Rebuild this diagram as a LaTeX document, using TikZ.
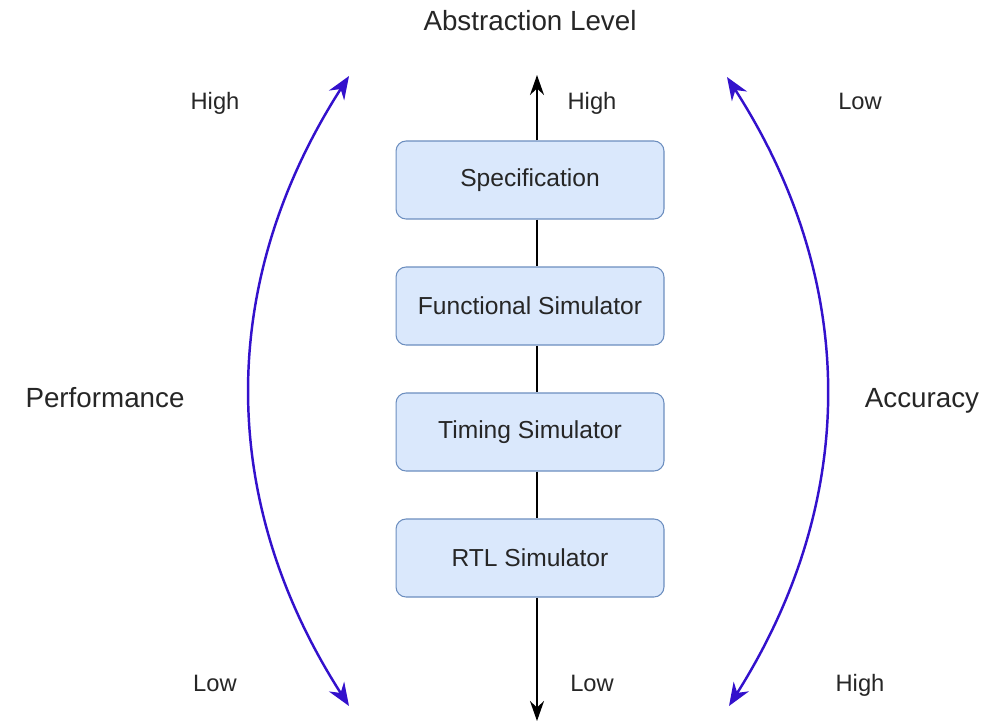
\documentclass[tikz,border=0pt]{standalone}
\usepackage{fontspec}
\setmainfont{Liberation Sans}
\usetikzlibrary{arrows.meta, positioning}
\definecolor{boxfill}{HTML}{DAE8FC}
\definecolor{boxline}{HTML}{6C8EBF}
\definecolor{bendblue}{HTML}{3311CC}
\definecolor{inkgray}{HTML}{262626}

\begin{document}
\begin{tikzpicture}[x=0.02cm, y=-0.02cm,
  level/.style={draw=boxline, fill=boxfill, rounded corners=0.2cm, line width=0.6pt,
    minimum width=5.36cm, minimum height=1.56cm, text=inkgray, font=\fontsize{14}{16}\selectfont},
  tag/.style={text=inkgray, font=\fontsize{13.5}{16}\selectfont, text height=1.6ex, text depth=0.4ex},
  bigtag/.style={text=inkgray, font=\fontsize{15.8}{18}\selectfont, text height=1.6ex, text depth=0.4ex},
  axis/.style={line width=1.1pt, black, -{Stealth[length=0.4cm, width=0.28cm]}},
  sidearc/.style={line width=1.4pt, bendblue, {Stealth[length=0.46cm, width=0.36cm]}-{Stealth[length=0.46cm, width=0.36cm]}}]
\useasboundingbox (0,0) rectangle (1004,724);

\node [bigtag] (title) at (530,25) {Abstraction Level};

% levels
\node [level] (spec) at (530,180) {Specification};
\node [level] (func) at (530,306) {Functional Simulator};
\node [level] (timing) at (530,432) {Timing Simulator};
\node [level] (rtl) at (530,558) {RTL Simulator};

\coordinate (axtop) at (537,75);
\coordinate (axbot) at (537,721);
\draw [axis] (spec.north -| axtop) -- (axtop);
\draw [line width=1.1pt] (spec.south -| axtop) -- (func.north -| axtop);
\draw [line width=1.1pt] (func.south -| axtop) -- (timing.north -| axtop);
\draw [line width=1.1pt] (timing.south -| axtop) -- (rtl.north -| axtop);
\draw [axis] (rtl.south -| axtop) -- (axbot);

% side arcs
\coordinate (ltop) at (349,76);
\coordinate (lbot) at (349,706);
\coordinate (rtop) at (727,77);
\coordinate (rbot) at (729,706);
\draw [sidearc] (ltop) .. controls (217,282) and (217,500) .. (lbot);
\draw [sidearc] (rtop) .. controls (859,282) and (859,500) .. (rbot);

\node [bigtag] (perf) at (105,402) {Performance};
\node [bigtag] (acc) at (922,402) {Accuracy};

\node [tag] (lhigh) at (215,104) {High};
\node [tag] (mhigh) at (592,104) {High};
\node [tag] (rlow) at (860,104) {Low};
\node [tag] (llow) at (215,686) {Low};
\node [tag] (mlow) at (592,686) {Low};
\node [tag] (rhigh) at (860,686) {High};
\end{tikzpicture}
\end{document}
